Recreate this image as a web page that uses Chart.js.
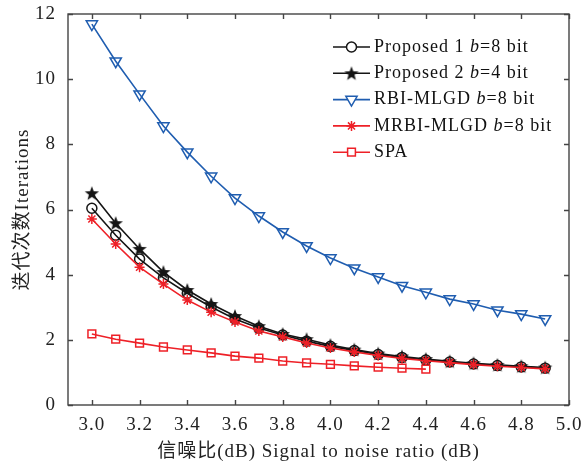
<!DOCTYPE html>
<html>
<head>
<meta charset="utf-8">
<script src="https://cdn.jsdelivr.net/npm/chart.js@4.4.0/dist/chart.umd.min.js"></script>
<style>
  html, body { margin: 0; padding: 0; background: #fff; }
  #wrap { width: 582px; height: 466px; }
</style>
</head>
<body>
<div id="wrap"><canvas id="chart"></canvas></div>
<script>
// ---------------- data ----------------
const snr = [3.0, 3.1, 3.2, 3.3, 3.4, 3.5, 3.6, 3.7, 3.8, 3.9, 4.0, 4.1, 4.2, 4.3, 4.4, 4.5, 4.6, 4.7, 4.8, 4.9];
const snrSpa = [3.0, 3.1, 3.2, 3.3, 3.4, 3.5, 3.6, 3.7, 3.8, 3.9, 4.0, 4.1, 4.2, 4.3, 4.4];

const proposed1 = [6.04, 5.21, 4.48, 3.90, 3.43, 3.01, 2.64, 2.36, 2.15, 1.96, 1.80, 1.67, 1.55, 1.46, 1.38, 1.32, 1.26, 1.21, 1.17, 1.13];
const proposed2 = [6.50, 5.58, 4.79, 4.08, 3.53, 3.10, 2.73, 2.42, 2.18, 2.02, 1.84, 1.70, 1.58, 1.49, 1.41, 1.34, 1.28, 1.23, 1.19, 1.15];
const rbiMlgd = [11.69, 10.55, 9.54, 8.56, 7.76, 7.02, 6.35, 5.80, 5.31, 4.88, 4.51, 4.20, 3.93, 3.66, 3.46, 3.25, 3.10, 2.91, 2.79, 2.64];
const mrbiMlgd = [5.71, 4.94, 4.23, 3.71, 3.22, 2.85, 2.55, 2.27, 2.09, 1.90, 1.75, 1.63, 1.52, 1.43, 1.36, 1.30, 1.24, 1.19, 1.15, 1.11];
const spa = [2.18, 2.02, 1.90, 1.78, 1.69, 1.60, 1.50, 1.44, 1.35, 1.29, 1.25, 1.20, 1.16, 1.13, 1.10];

const xTicks = [3.0, 3.2, 3.4, 3.6, 3.8, 4.0, 4.2, 4.4, 4.6, 4.8, 5.0];
const yTicks = [0, 2, 4, 6, 8, 10, 12];

const legendNames = [
  ["Proposed 1 ", "b", "=8 bit"],
  ["Proposed 2 ", "b", "=4 bit"],
  ["RBI-MLGD ", "b", "=8 bit"],
  ["MRBI-MLGD ", "b", "=8 bit"],
  ["SPA", "", ""],
];

const BLACK = "#151515";
const BLUE = "#1f5db0";
const RED = "#ee2027";
const FONT = "'Liberation Serif', 'Times New Roman', 'Noto Sans CJK SC', serif";

// gefylld femuddig stjärna som punktstil
function makeStar(size, color) {
  const c = document.createElement("canvas");
  c.width = size;
  c.height = size;
  const g = c.getContext("2d");
  const r = size / 2 - 0.5, ri = r * 0.42, cx = size / 2, cy = size / 2 + 0.6;
  g.beginPath();
  for (let i = 0; i < 10; i++) {
    const rr = i % 2 === 0 ? r : ri;
    const a = -Math.PI / 2 + i * Math.PI / 5;
    g.lineTo(cx + rr * Math.cos(a), cy + rr * Math.sin(a));
  }
  g.closePath();
  g.fillStyle = color;
  g.fill();
  return c;
}
const starImg = makeStar(16, BLACK);

const pts = (xs, ys) => ys.map((v, i) => ({ x: xs[i], y: v }));

const datasets = [
  { label: "Proposed 1", data: pts(snr, proposed1), borderColor: BLACK, pointStyle: "circle", pointRadius: 5, pointBackgroundColor: "rgba(0,0,0,0)", order: 3 },
  { label: "Proposed 2", data: pts(snr, proposed2), borderColor: BLACK, pointStyle: starImg, order: 4 },
  { label: "RBI-MLGD", data: pts(snr, rbiMlgd), borderColor: BLUE, pointStyle: "triangle", rotation: 180, pointRadius: 6.5, pointBackgroundColor: "rgba(0,0,0,0)", order: 2 },
  { label: "MRBI-MLGD", data: pts(snr, mrbiMlgd), borderColor: RED, pointStyle: "star", pointRadius: 5, order: 1 },
  { label: "SPA", data: pts(snrSpa, spa), borderColor: RED, pointStyle: "rect", pointRadius: 5.5, pointBackgroundColor: "rgba(0,0,0,0)", order: 0 },
];
datasets.forEach((d) => {
  d.borderWidth = 1.6;
  d.pointBorderColor = d.borderColor;
  d.pointBorderWidth = 1.5;
  d.tension = 0;
  d.fill = false;
});

// lite bredare teckenavstånd, som i originalet
const spacingPlugin = {
  id: "spacing",
  beforeLayout(chart) { chart.ctx.letterSpacing = "1px"; },
  beforeDraw(chart) { chart.ctx.letterSpacing = "1px"; },
};

// Ram runt plotytan med inåtvända ticks (MATLAB-stil)
const framePlugin = {
  id: "frame",
  afterDatasetsDraw(chart) {
    const { ctx, chartArea: a, scales } = chart;
    ctx.save();
    ctx.strokeStyle = "#444";
    ctx.lineWidth = 1.4;
    ctx.strokeRect(a.left, a.top, a.right - a.left, a.bottom - a.top);
    ctx.beginPath();
    scales.x.ticks.forEach((t) => {
      const px = Math.round(scales.x.getPixelForValue(t.value)) + 0.5;
      ctx.moveTo(px, a.bottom); ctx.lineTo(px, a.bottom - 5);
      ctx.moveTo(px, a.top); ctx.lineTo(px, a.top + 5);
    });
    scales.y.ticks.forEach((t) => {
      const py = Math.round(scales.y.getPixelForValue(t.value)) + 0.5;
      ctx.moveTo(a.left, py); ctx.lineTo(a.left + 5, py);
      ctx.moveTo(a.right, py); ctx.lineTo(a.right - 5, py);
    });
    ctx.stroke();
    ctx.restore();
  },
};

// Egen legend: linje + markör + text med kursivt b
const legendPlugin = {
  id: "customLegend",
  afterDraw(chart) {
    const { ctx } = chart;
    const x0 = 333, x1 = 370, textX = 374, yStart = 47, step = 26.3;
    ctx.save();
    datasets.forEach((d, i) => {
      const y = yStart + i * step;
      ctx.strokeStyle = d.borderColor;
      ctx.lineWidth = 1.6;
      ctx.beginPath();
      ctx.moveTo(x0, y); ctx.lineTo(x1, y);
      ctx.stroke();
      const cx = (x0 + x1) / 2;
      if (d.pointStyle === starImg) {
        ctx.drawImage(starImg, cx - starImg.width / 2, y - starImg.height / 2);
      } else {
        ctx.fillStyle = "#fff";
        ctx.strokeStyle = d.borderColor;
        ctx.lineWidth = 1.5;
        Chart.helpers.drawPoint(ctx, {
          pointStyle: d.pointStyle, radius: d.pointRadius, rotation: d.rotation || 0, borderWidth: 1.5,
        }, cx, y);
      }
      // text
      const parts = legendNames[i];
      ctx.fillStyle = "#111";
      ctx.textBaseline = "middle";
      let tx = textX;
      ctx.font = "18px " + FONT;
      ctx.fillText(parts[0], tx, y);
      tx += ctx.measureText(parts[0]).width;
      if (parts[1]) {
        ctx.font = "italic 18px " + FONT;
        ctx.fillText(parts[1], tx, y);
        tx += ctx.measureText(parts[1]).width;
        ctx.font = "18px " + FONT;
        ctx.fillText(parts[2], tx, y);
      }
    });
    ctx.restore();
  },
};

const config = {
  type: "line",
  data: { datasets },
  plugins: [spacingPlugin, framePlugin, legendPlugin],
  options: {
    responsive: true,
    maintainAspectRatio: false,
    animation: false,
    layout: { padding: { left: 0, top: 14, right: 13, bottom: 0 } },
    plugins: {
      legend: { display: false },
      tooltip: { enabled: false },
    },
    scales: {
      x: {
        type: "linear",
        min: 2.9,
        max: 5.0,
        afterBuildTicks: (axis) => (axis.ticks = xTicks.map((v) => ({ value: v }))),
        afterFit: (axis) => {
          axis.height = 61;
          axis.paddingLeft = 0;
          axis.paddingRight = 0;
        },
        grid: { display: false, drawTicks: false },
        border: { display: false },
        ticks: {
          padding: 9,
          color: "#222",
          font: { family: FONT, size: 19 },
          callback: (v) => v.toFixed(1),
        },
        title: {
          display: true,
          text: "信噪比(dB) Signal to noise ratio (dB)",
          color: "#222",
          font: { family: FONT, size: 19 },
          padding: { top: 0, bottom: 3 },
        },
      },
      y: {
        type: "linear",
        min: 0,
        max: 12,
        afterBuildTicks: (axis) => (axis.ticks = yTicks.map((v) => ({ value: v }))),
        afterFit: (axis) => {
          axis.width = 68;
          axis.paddingTop = 0;
          axis.paddingBottom = 0;
        },
        grid: { display: false, drawTicks: false },
        border: { display: false },
        ticks: {
          padding: 12,
          color: "#222",
          font: { family: FONT, size: 19 },
        },
        title: {
          display: true,
          text: "迭代次数Iterations",
          color: "#222",
          font: { family: FONT, size: 19 },
          padding: { top: 12, bottom: 0 },
        },
      },
    },
  },
};

const canvas = document.getElementById("chart");
const myChart = new Chart(canvas, config);
</script>
</body>
</html>
